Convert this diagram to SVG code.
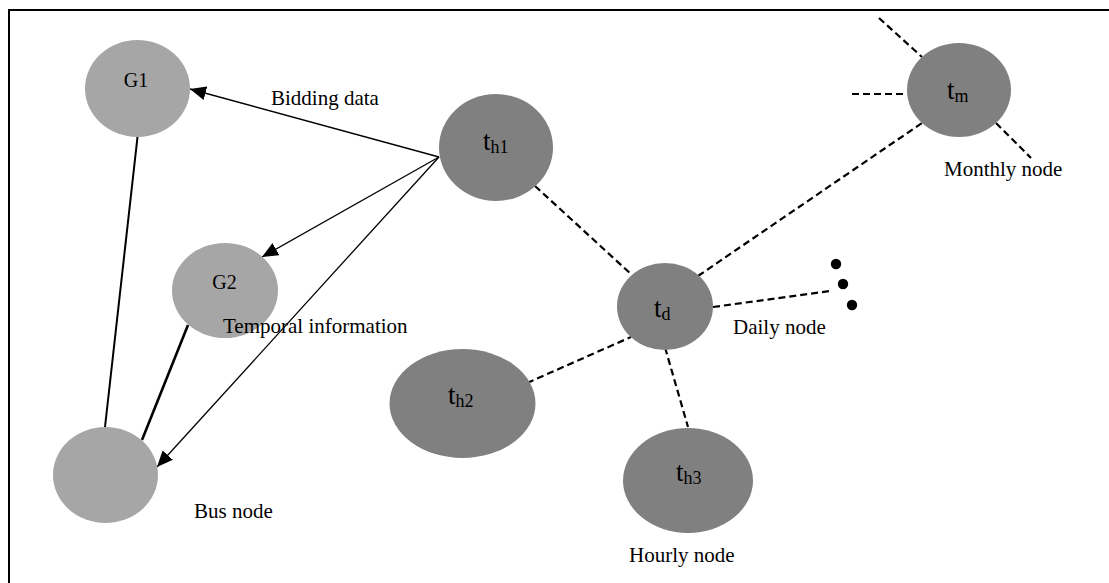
<svg xmlns="http://www.w3.org/2000/svg" width="1109" height="583" viewBox="0 0 1109 583">
  <style>
    .bus { fill: #a6a6a6; }
    .time { fill: #808080; }
    .lbl { font-family: "Liberation Serif", "Times New Roman", serif; font-size: 21px; fill: #000; }
    .glbl { font-family: "Liberation Serif", "Times New Roman", serif; font-size: 20px; fill: #000; }
    .tlbl { font-family: "Liberation Serif", "Times New Roman", serif; font-size: 27px; fill: #000; }
    .sub { font-size: 18px; }
    .solid { stroke: #000; fill: none; }
    .dash { stroke: #000; fill: none; stroke-width: 2.2; stroke-dasharray: 7 4; }
  </style>
  <defs>
    <marker id="arrow" viewBox="0 0 16 14" refX="16" refY="7" markerWidth="16" markerHeight="14" markerUnits="userSpaceOnUse" orient="auto">
      <path d="M0,0 L16,7 L0,14 Z" fill="#000"/>
    </marker>
  </defs>
  <rect width="1109" height="583" fill="#fff"/>

  <!-- frame (top and left edges only) -->
  <path d="M9,583 V10 H1109" stroke="#000" stroke-width="2" fill="none"/>

  <!-- connectors -->
  <g id="connectors">
    <line class="solid" x1="137.5" y1="137" x2="105" y2="427" stroke-width="2"/>
    <line class="solid" x1="188" y1="325" x2="142" y2="440" stroke-width="2.6"/>
    <line class="solid" x1="439" y1="157" x2="190" y2="89" stroke-width="1.3" marker-end="url(#arrow)"/>
    <line class="solid" x1="439" y1="157" x2="262" y2="257" stroke-width="1.3" marker-end="url(#arrow)"/>
    <line class="solid" x1="439" y1="157" x2="157" y2="467" stroke-width="1.3" marker-end="url(#arrow)"/>

    <line class="dash" x1="535" y1="186" x2="632" y2="275"/>
    <line class="dash" x1="527" y1="383" x2="631" y2="337"/>
    <line class="dash" x1="662" y1="337" x2="688" y2="427"/>
    <line class="dash" x1="713" y1="307" x2="830" y2="291"/>
    <line class="dash" x1="698" y1="276" x2="922" y2="123"/>
    <line class="dash" x1="879" y1="18" x2="922" y2="57"/>
    <line class="dash" x1="852" y1="94" x2="907" y2="94"/>
    <line class="dash" x1="996" y1="123" x2="1031" y2="158"/>

    <circle cx="836" cy="264" r="5.2" fill="#000"/>
    <circle cx="843" cy="284" r="5.2" fill="#000"/>
    <circle cx="852" cy="305" r="5.2" fill="#000"/>
  </g>

  <!-- bus side -->
  <g id="node-g1">
    <ellipse class="bus" cx="137.5" cy="88.5" rx="52.5" ry="48.5"/>
    <text class="glbl" x="136" y="87" text-anchor="middle">G1</text>
  </g>
  <g id="node-g2">
    <ellipse class="bus" cx="225" cy="290.5" rx="53" ry="47.5"/>
    <text class="glbl" x="224.5" y="289" text-anchor="middle">G2</text>
  </g>
  <g id="node-bus">
    <ellipse class="bus" cx="105.5" cy="475" rx="52.5" ry="48"/>
  </g>

  <!-- temporal side -->
  <g id="node-th1">
    <ellipse class="time" cx="496" cy="147.5" rx="57" ry="53.5"/>
    <text class="tlbl" x="483" y="150">t<tspan class="sub" dy="3">h1</tspan></text>
  </g>
  <g id="node-th2">
    <ellipse class="time" cx="462.5" cy="403.5" rx="73" ry="54.5"/>
    <text class="tlbl" x="448" y="404">t<tspan class="sub" dy="3">h2</tspan></text>
  </g>
  <g id="node-td">
    <ellipse class="time" cx="665" cy="306.5" rx="48" ry="43.5"/>
    <text class="tlbl" x="654" y="317">t<tspan class="sub" dy="3">d</tspan></text>
  </g>
  <g id="node-th3">
    <ellipse class="time" cx="688" cy="480.5" rx="65" ry="52.5"/>
    <text class="tlbl" x="676" y="481">t<tspan class="sub" dy="3">h3</tspan></text>
  </g>
  <g id="node-tm">
    <ellipse class="time" cx="959" cy="90" rx="52" ry="47"/>
    <text class="tlbl" x="947" y="99">t<tspan class="sub" dy="3">m</tspan></text>
  </g>

  <!-- labels -->
  <g id="labels">
    <text class="lbl" x="271" y="105">Bidding data</text>
    <text class="lbl" x="223" y="333">Temporal information</text>
    <text class="lbl" x="194" y="518">Bus node</text>
    <text class="lbl" x="944" y="176">Monthly node</text>
    <text class="lbl" x="733" y="334">Daily node</text>
    <text class="lbl" x="629" y="562">Hourly node</text>
  </g>
</svg>
